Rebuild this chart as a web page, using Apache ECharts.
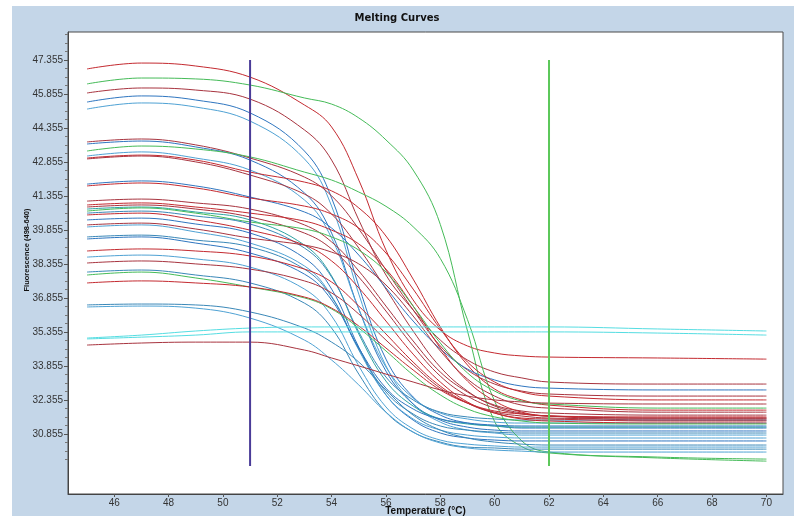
<!DOCTYPE html>
<html>
<head>
<meta charset="utf-8">
<title>Melting Curves</title>
<script src="https://cdn.jsdelivr.net/npm/echarts@6/dist/echarts.min.js"></script>
<style>
html,body{margin:0;padding:0;background:#fff;}
#meltChart{width:794px;height:516px;}
</style>
</head>
<body>
<div id="meltChart"></div>
<script>
// temperatures where each curve was read (°C)
var temps = [45, 47, 49, 51, 53, 54, 55, 56, 57, 58, 59, 60, 61, 62, 66, 70];

// fluorescence per sample
var c01 = [46.96, 47.22, 47.09, 46.60, 45.37, 44.40, 42.06, 38.97, 36.77, 35.44, 34.74, 34.43, 34.30, 34.25, 34.21, 34.16];
var c02 = [46.30, 46.56, 46.52, 46.25, 45.68, 45.41, 44.80, 43.83, 42.50, 40.10, 35.40, 31.40, 30.30, 30.02, 29.80, 29.66];
var c03 = [45.90, 46.12, 46.03, 45.63, 44.27, 42.94, 40.30, 37.87, 36.33, 35.00, 34.12, 33.59, 33.33, 33.15, 33.06, 33.06];
var c04 = [45.50, 45.77, 45.59, 45.02, 43.34, 41.27, 37.38, 34.16, 32.49, 31.69, 31.34, 31.21, 31.12, 31.12, 31.12, 31.12];
var c05 = [45.19, 45.46, 45.28, 44.66, 42.99, 40.91, 37.03, 33.86, 32.18, 31.38, 31.03, 30.90, 30.81, 30.81, 30.81, 30.81];
var c06 = [43.74, 43.87, 43.61, 43.03, 42.19, 41.36, 39.90, 38.09, 36.33, 34.74, 33.68, 33.06, 32.75, 32.62, 32.53, 32.53];
var c07 = [43.65, 43.78, 43.52, 42.94, 41.49, 39.72, 36.37, 33.63, 32.18, 31.47, 31.16, 31.03, 30.99, 30.99, 30.99, 30.99];
var c08 = [43.34, 43.56, 43.43, 43.08, 42.41, 42.06, 41.53, 40.90, 40.00, 38.60, 35.90, 32.30, 30.55, 30.06, 29.84, 29.75];
var c09 = [43.12, 43.30, 43.03, 42.50, 41.18, 39.50, 36.37, 33.81, 32.44, 31.78, 31.52, 31.38, 31.34, 31.34, 31.34, 31.34];
var c10 = [43.03, 43.16, 42.94, 42.41, 41.97, 41.58, 40.83, 39.59, 37.69, 35.58, 33.90, 32.84, 32.36, 32.13, 31.91, 31.91];
var c11 = [42.99, 43.12, 42.86, 42.28, 41.44, 40.56, 39.06, 37.25, 35.40, 33.81, 32.75, 32.09, 31.78, 31.65, 31.56, 31.56];
var c12 = [41.88, 42.02, 41.80, 41.31, 40.65, 39.94, 38.75, 37.30, 35.84, 34.61, 33.72, 33.24, 32.97, 32.88, 32.80, 32.80];
var c13 = [41.80, 41.93, 41.71, 41.27, 40.91, 40.56, 39.94, 38.84, 37.25, 35.49, 34.03, 33.15, 32.71, 32.53, 32.36, 32.36];
var c14 = [41.13, 41.22, 41.05, 40.78, 40.08, 39.33, 38.05, 36.50, 34.96, 33.59, 32.71, 32.13, 31.87, 31.78, 31.69, 31.69];
var c15 = [40.96, 41.05, 40.87, 40.60, 40.25, 39.85, 39.24, 38.13, 36.50, 34.65, 33.19, 32.31, 31.82, 31.65, 31.47, 31.47];
var c16 = [40.87, 40.96, 40.78, 40.43, 39.72, 39.02, 37.78, 36.28, 34.74, 33.41, 32.53, 32.00, 31.74, 31.65, 31.56, 31.56];
var c17 = [40.78, 40.87, 40.65, 40.30, 39.19, 37.83, 35.27, 33.19, 32.09, 31.52, 31.30, 31.21, 31.16, 31.16, 31.16, 31.16];
var c18 = [40.69, 40.83, 40.60, 40.21, 39.90, 39.55, 38.97, 38.00, 36.50, 34.87, 33.55, 32.75, 32.31, 32.18, 32.00, 32.00];
var c19 = [40.60, 40.69, 40.47, 40.12, 39.06, 37.78, 35.36, 33.37, 32.36, 31.82, 31.61, 31.52, 31.47, 31.47, 31.47, 31.47];
var c20 = [40.52, 40.60, 40.30, 39.85, 39.19, 38.49, 37.30, 35.84, 34.38, 33.15, 32.27, 31.78, 31.52, 31.43, 31.34, 31.34];
var c21 = [40.30, 40.38, 40.12, 39.72, 38.62, 37.25, 34.69, 32.58, 31.47, 30.90, 30.68, 30.59, 30.55, 30.55, 30.55, 30.55];
var c22 = [40.08, 40.16, 39.90, 39.50, 39.19, 38.88, 38.36, 37.43, 36.06, 34.52, 33.28, 32.53, 32.13, 32.00, 31.82, 31.82];
var c23 = [39.99, 40.08, 39.77, 39.28, 38.27, 36.94, 34.56, 32.58, 31.52, 31.03, 30.81, 30.72, 30.68, 30.68, 30.68, 30.68];
var c24 = [39.55, 39.63, 39.41, 39.11, 38.13, 36.90, 34.61, 32.71, 31.74, 31.21, 31.03, 30.94, 30.90, 30.90, 30.90, 30.90];
var c25 = [39.46, 39.55, 39.28, 38.84, 37.91, 36.77, 34.65, 32.88, 31.96, 31.52, 31.34, 31.25, 31.21, 31.21, 31.21, 31.21];
var c26 = [38.93, 39.02, 38.93, 38.71, 38.13, 37.56, 36.50, 35.27, 34.03, 32.97, 32.22, 31.78, 31.56, 31.52, 31.43, 31.43];
var c27 = [38.66, 38.75, 38.58, 38.22, 37.25, 36.06, 33.86, 32.05, 31.08, 30.59, 30.41, 30.33, 30.28, 30.28, 30.28, 30.28];
var c28 = [38.40, 38.49, 38.36, 38.13, 37.61, 37.08, 36.15, 35.00, 33.90, 32.88, 32.22, 31.82, 31.65, 31.56, 31.52, 31.52];
var c29 = [38.00, 38.09, 37.87, 37.52, 36.63, 35.53, 33.50, 31.82, 30.94, 30.50, 30.28, 30.24, 30.19, 30.19, 30.19, 30.19];
var c30 = [37.87, 38.00, 37.74, 37.34, 36.86, 36.37, 35.53, 34.52, 33.46, 32.58, 31.96, 31.61, 31.43, 31.34, 31.30, 31.30];
var c31 = [37.52, 37.61, 37.52, 37.34, 36.90, 36.41, 35.62, 34.65, 33.68, 32.80, 32.22, 31.87, 31.74, 31.65, 31.61, 31.61];
var c32 = [36.55, 36.59, 36.55, 36.24, 35.53, 34.91, 34.03, 32.80, 31.69, 31.03, 30.68, 30.50, 30.41, 30.37, 30.37, 30.37];
var c33 = [36.46, 36.50, 36.41, 35.97, 35.00, 34.12, 33.02, 31.82, 30.94, 30.46, 30.24, 30.15, 30.10, 30.06, 30.06, 30.06];
var c34 = [35.09, 35.22, 35.40, 35.53, 35.58, 35.58, 35.58, 35.58, 35.58, 35.58, 35.58, 35.58, 35.58, 35.58, 35.49, 35.40];
var c35 = [35.05, 35.13, 35.22, 35.36, 35.36, 35.36, 35.36, 35.36, 35.36, 35.36, 35.36, 35.36, 35.36, 35.36, 35.31, 35.22];
var c36 = [34.78, 34.87, 34.91, 34.91, 34.56, 34.21, 33.86, 33.50, 33.15, 32.80, 32.53, 32.36, 32.27, 32.22, 32.18, 32.18];

var curveData = [c01, c02, c03, c04, c05, c06, c07, c08, c09, c10, c11, c12, c13, c14, c15, c16, c17, c18,
                 c19, c20, c21, c22, c23, c24, c25, c26, c27, c28, c29, c30, c31, c32, c33, c34, c35, c36];

var red = '#c42a30', dred = '#a8343f', blue = '#2f76c0', lblue = '#4fa2d4', sblue = '#3a88b8',
    green = '#45bb58', teal = '#2fa3a3', cyan = '#55dde2';
var curveColors = [red, green, dred, blue, lblue, dred, blue, green, lblue, red, dred, blue, red, dred, red, dred,
                   teal, green, sblue, red, blue, dred, lblue, sblue, blue, red, lblue, dred, sblue, green, red,
                   sblue, lblue, cyan, cyan, dred];

// axis ticks
var xTicks = [46, 48, 50, 52, 54, 56, 58, 60, 62, 64, 66, 68, 70];
var yTicks = [30.855, 32.355, 33.855, 35.355, 36.855, 38.355, 39.855, 41.355, 42.855, 44.355, 45.855, 47.355];
var yMinor = [29.73, 30.105, 30.48, 31.23, 31.605, 31.98, 32.73, 33.105, 33.48, 34.23, 34.605, 34.98,
              35.73, 36.105, 36.48, 37.23, 37.605, 37.98, 38.73, 39.105, 39.48, 40.23, 40.605, 40.98,
              41.73, 42.105, 42.48, 43.23, 43.605, 43.98, 44.73, 45.105, 45.48, 46.23, 46.605, 46.98,
              47.73, 48.105, 48.48];

// the two cursor lines
var cursorTemps = [51, 62];
var cursorColors = ['#4a3c98', '#5cc85a'];
var cursorTop = 47.355, cursorBottom = 29.44;

var chart = echarts.init(document.getElementById('meltChart'));

var series = [];
for (var i = 0; i < curveData.length; i++) {
  var pts = [];
  for (var j = 0; j < temps.length; j++) pts.push([temps[j], curveData[i][j]]);
  series.push({
    type: 'line',
    data: pts,
    smooth: 0.4,
    showSymbol: false,
    silent: true,
    lineStyle: {color: curveColors[i], width: 1}
  });
}
for (var k = 0; k < cursorTemps.length; k++) {
  series.push({
    type: 'line',
    data: [[cursorTemps[k], cursorTop], [cursorTemps[k], cursorBottom]],
    showSymbol: false,
    silent: true,
    lineStyle: {color: cursorColors[k], width: 2}
  });
}

var option = {
  animation: false,
  backgroundColor: '#fff',
  title: {
    text: 'Melting Curves',
    left: 'center',
    top: 13,
    padding: 0,
    textStyle: {fontFamily: 'DejaVu Sans', fontWeight: 'bold', fontSize: 10, color: '#111'}
  },
  graphic: [
    {type: 'rect', z: -100, silent: true, shape: {x: 12, y: 6, width: 782, height: 510}, style: {fill: '#c4d6e8'}},
    {
      type: 'text', x: 27, y: 250, rotation: Math.PI / 2, silent: true,
      style: {
        text: 'Fluorescence (498-640)', fill: '#111',
        font: 'bold 7.5px "Liberation Sans", Arial, sans-serif',
        align: 'center', verticalAlign: 'middle', textAlign: 'center', textVerticalAlign: 'middle'
      }
    }
  ],
  grid: {
    left: 68, top: 32, width: 715, height: 462,
    containLabel: false, outerBoundsMode: 'none',
    show: true, backgroundColor: '#fff', borderColor: '#4a4a4a', borderWidth: 1
  },
  xAxis: {
    type: 'value', min: 44.30, max: 70.61,
    name: 'Temperature (°C)', nameLocation: 'middle', nameGap: 12, nameMoveOverlap: false,
    nameTextStyle: {fontFamily: 'Liberation Sans', fontWeight: 'bold', fontSize: 10, color: '#111'},
    axisLine: {show: true, lineStyle: {color: '#444'}},
    axisTick: {show: true, length: 3, customValues: xTicks, lineStyle: {color: '#555'}},
    axisLabel: {customValues: xTicks, margin: 4, fontFamily: 'Liberation Sans', fontSize: 10, color: '#333'},
    splitLine: {show: false}
  },
  yAxis: [
    {
      type: 'value', min: 28.21, max: 48.59,
      axisLine: {show: true, lineStyle: {color: '#444'}},
      axisTick: {show: true, length: 4, customValues: yTicks, lineStyle: {color: '#555'}},
      axisLabel: {
        customValues: yTicks, margin: 5, fontFamily: 'Liberation Sans', fontSize: 10, color: '#333',
        formatter: function (v) { return v.toFixed(3); }
      },
      splitLine: {show: false}
    },
    {
      type: 'value', min: 28.21, max: 48.59, position: 'left',
      axisLine: {show: false},
      axisTick: {show: true, length: 3, customValues: yMinor, lineStyle: {color: '#777'}},
      axisLabel: {show: false},
      splitLine: {show: false}
    }
  ],
  series: series
};

chart.setOption(option);
</script>
</body>
</html>
